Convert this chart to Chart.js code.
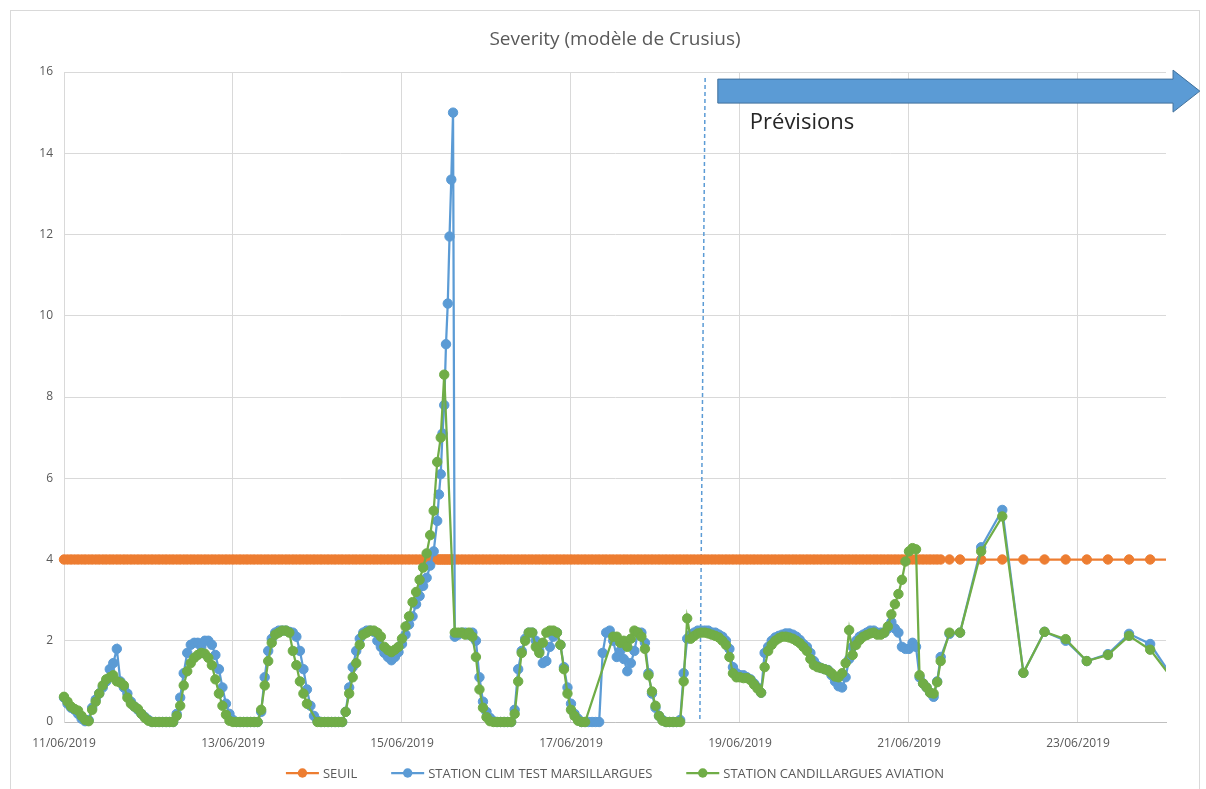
<!DOCTYPE html>
<html>
<head>
<meta charset="utf-8">
<title>Severity (modèle de Crusius)</title>
<script src="https://cdn.jsdelivr.net/npm/chart.js@4.4.1/dist/chart.umd.min.js"></script>
<style>
  html, body { margin: 0; padding: 0; background: #ffffff; }
  canvas { display: block; }
</style>
</head>
<body>
<canvas id="chart" width="1206" height="789"></canvas>
<script>
// Time of each reading, in hours after 11/06/2019 00:00 (hourly observations, then 6-hourly forecasts)
const hours = [
  0,1,2,3,4,5,6,7,8,9,
  10,11,12,13,14,15,16,17,18,19,
  20,21,22,23,24,25,26,27,28,29,
  30,31,32,33,34,35,36,37,38,39,
  40,41,42,43,44,45,46,47,48,49,
  50,51,52,53,54,55,56,57,58,59,
  60,61,62,63,64,65,66,67,68,69,
  70,71,72,73,74,75,76,77,78,79,
  80,81,82,83,84,85,86,87,88,89,
  90,91,92,93,94,95,96,97,98,99,
  100,101,102,103,104,105,
  106,106.5,107,107.5,108,108.5,109,109.5,110,110.5,
  111,112,113,114,115,116,117,118,119,
  120,121,122,123,124,125,126,127,128,129,
  130,131,132,133,134,135,136,137,138,139,
  140,141,142,143,144,145,146,147,148,149,
  150,151,152,153,154,155,156,157,158,159,
  160,161,162,163,164,165,166,167,168,169,
  170,171,172,173,174,175,176,177,178,179,
  180,181,182,183,184,185,186,187,188,189,
  190,191,192,193,194,195,196,197,198,199,
  200,201,202,203,204,205,206,207,208,209,
  210,211,212,213,214,215,216,217,218,219,
  220,221,222,223,224,225,226,227,228,229,
  230,231,232,233,234,235,236,237,238,239,
  240,241,242,243,244,245,246,247,248,249,
  251.5,254.5,260.5,266.5,272.5,278.5,284.5,290.5,296.5,302.5,308.5,314.5
];

// SEUIL (alert threshold)
const seuil = [
  4,4,4,4,4,4,4,4,4,4,
  4,4,4,4,4,4,4,4,4,4,
  4,4,4,4,4,4,4,4,4,4,
  4,4,4,4,4,4,4,4,4,4,
  4,4,4,4,4,4,4,4,4,4,
  4,4,4,4,4,4,4,4,4,4,
  4,4,4,4,4,4,4,4,4,4,
  4,4,4,4,4,4,4,4,4,4,
  4,4,4,4,4,4,4,4,4,4,
  4,4,4,4,4,4,4,4,4,4,
  4,4,4,4,4,4,
  4,4,4,4,4,4,4,4,4,4,
  4,4,4,4,4,4,4,4,4,
  4,4,4,4,4,4,4,4,4,4,
  4,4,4,4,4,4,4,4,4,4,
  4,4,4,4,4,4,4,4,4,4,
  4,4,4,4,4,4,4,4,4,4,
  4,4,4,4,4,4,4,4,4,4,
  4,4,4,4,4,4,4,4,4,4,
  4,4,4,4,4,4,4,4,4,4,
  4,4,4,4,4,4,4,4,4,4,
  4,4,4,4,4,4,4,4,4,4,
  4,4,4,4,4,4,4,4,4,4,
  4,4,4,4,4,4,4,4,4,4,
  4,4,4,4,4,4,4,4,4,4,
  4,4,4,4,4,4,4,4,4,4,
  4,4,4,4,4,4,4,4,4,4,
  4,4,4,4,4,4,4,4,4,4,4,4
];

// STATION CLIM TEST MARSILLARGUES
const marsillargues = [
  0.6,0.45,0.35,0.3,0.2,0.08,0.02,0.05,0.35,0.55,
  0.7,0.85,1.0,1.3,1.45,1.8,1.0,0.85,0.7,0.5,
  0.38,0.3,0.2,0.12,0.05,0,0,0,0,0,
  0,0,0.2,0.6,1.2,1.7,1.9,1.95,1.95,1.85,
  2.0,2.0,1.9,1.65,1.3,0.85,0.45,0.2,0.05,0,
  0,0,0,0,0,0,0.25,1.1,1.75,2.05,
  2.2,2.25,2.25,2.25,2.22,2.2,2.1,1.75,1.3,0.8,
  0.4,0.15,0.03,0,0,0,0,0,0,0,
  0.25,0.85,1.35,1.75,2.05,2.2,2.25,2.25,2.22,2.0,
  1.85,1.7,1.6,1.52,1.6,1.72,1.92,2.15,2.4,2.6,
  2.9,3.1,3.35,3.55,3.85,4.2,
  4.95,5.6,6.1,7.1,7.8,9.3,10.3,11.95,13.35,15.0,
  2.1,2.15,2.2,2.2,2.15,2.2,2.0,1.1,0.5,
  0.25,0.1,0.02,0,0,0,0,0,0.3,1.3,
  1.75,2.05,2.2,2.2,2.0,1.75,1.45,1.5,1.85,2.1,
  2.2,1.9,1.35,0.85,0.45,0.2,0.08,0,0,0,
  0,0,0,1.7,2.2,2.25,2.0,1.6,1.75,1.55,
  1.25,1.45,1.75,2.2,2.2,1.95,1.2,0.7,0.35,0.15,
  0.05,0,0,0,0,0.05,1.2,2.05,2.15,2.2,
  2.25,2.25,2.25,2.25,2.2,2.2,2.15,2.1,2.0,1.8,
  1.35,1.2,1.15,1.15,1.1,1.05,0.95,0.85,0.72,1.7,
  1.85,2.0,2.08,2.12,2.15,2.18,2.18,2.15,2.1,2.02,
  1.92,1.85,1.7,1.5,1.38,1.33,1.3,1.28,1.15,1.0,
  0.88,0.85,1.1,1.55,1.85,2.0,2.1,2.15,2.2,2.25,
  2.25,2.2,2.2,2.2,2.3,2.46,2.3,2.2,1.85,1.8,
  1.8,1.95,1.85,1.1,0.95,0.85,0.72,0.62,1.0,1.6,
  2.17,2.2,4.3,5.22,1.21,2.22,2.0,1.5,1.67,2.17,1.92,1.15
];

// STATION CANDILLARGUES AVIATION (null = no reading)
const candillargues = [
  0.62,0.5,0.38,0.32,0.28,0.15,0.05,0.02,0.3,0.5,
  0.7,0.9,1.05,1.1,1.15,1.0,0.97,0.9,0.6,0.45,
  0.38,0.32,0.2,0.1,0.03,0,0,0,0,0,
  0,0,0.15,0.4,0.9,1.25,1.45,1.58,1.65,1.7,
  1.68,1.58,1.4,1.05,0.7,0.4,0.18,0.03,0,0,
  0,0,0,0,0,0,0.3,0.9,1.5,1.95,
  2.15,2.2,2.25,2.25,2.2,1.75,1.4,1.0,0.7,0.45,
  null,null,0,0,0,0,0,0,0,0,
  0.25,0.7,1.1,1.45,1.9,2.15,2.2,2.25,2.25,2.2,
  2.1,1.85,1.77,1.72,1.78,1.85,2.05,2.35,2.6,2.95,
  3.2,3.5,3.8,4.15,4.6,5.2,
  6.4,null,7.0,null,8.55,null,null,null,null,null,
  2.2,2.2,2.2,2.15,2.2,2.1,1.6,0.8,0.35,
  0.12,0.02,0,0,0,0,0,0,0.2,1.0,
  1.7,2.0,2.2,2.2,1.85,1.7,1.95,2.2,2.25,2.25,
  2.2,1.9,1.3,0.7,0.3,0.15,0.03,0,0,null,
  null,null,null,null,null,null,2.1,2.1,1.95,2.0,
  1.85,2.05,2.25,2.2,2.1,1.8,1.15,0.75,0.4,0.15,
  0.03,0,0,0,0,0,1.0,2.55,2.05,2.12,
  2.18,2.2,2.2,2.18,2.15,2.12,2.08,2.0,1.9,1.6,
  1.2,1.1,1.1,1.08,1.08,1.03,0.92,0.82,0.72,1.35,
  1.75,1.9,2.0,2.06,2.1,2.1,2.08,2.05,2.0,1.94,
  1.85,1.75,1.55,1.4,1.35,1.33,1.3,1.27,1.2,1.12,
  1.1,1.2,1.45,2.26,1.65,1.9,2.02,2.1,2.14,2.18,
  2.2,2.15,2.15,2.2,2.35,2.65,2.9,3.15,3.5,3.95,
  4.2,4.28,4.25,1.15,0.95,0.85,0.72,0.7,0.98,1.5,
  2.2,2.2,4.2,5.06,1.21,2.22,2.04,1.5,1.65,2.12,1.78,1.1
];

const seriesNames = ['SEUIL', 'STATION CLIM TEST MARSILLARGUES', 'STATION CANDILLARGUES AVIATION'];
const seriesColors = ['#ED7D31', '#5B9BD5', '#70AD47'];

// Date labels, one every 48 hours
const tickLabels = ['11/06/2019', '13/06/2019', '15/06/2019', '17/06/2019', '19/06/2019', '21/06/2019', '23/06/2019'];
const hoursPerLabel = 48;
const yTicks = { min: 0, max: 16, step: 2 };

const chartTitle = 'Severity (modèle de Crusius)';
const forecastLabel = 'Prévisions';
// Start of the forecast period (dashed marker) and the arrow above it, in hours / severity units
const forecastMarker = { topHour: 182.1, bottomHour: 180.6, topLevel: 15.85 };
const forecastArrow = { startHour: 185.7, headHour: 315, tipHour: 322.6, level: 15.53 };

const FONT = '"Open Sans", "DejaVu Sans", sans-serif';
const TEXT_GREY = '#595959';
const GRID_GREY = '#D9D9D9';
const MARKER_RADIUS = 4.7;

function toPoints(values) {
  return hours.map((h, i) => ({ x: h, y: values[i] }));
}

function seriesStyle(i) {
  return {
    label: seriesNames[i],
    borderColor: seriesColors[i],
    backgroundColor: seriesColors[i],
    pointBackgroundColor: seriesColors[i],
    pointBorderColor: seriesColors[i],
    borderWidth: 2.25,
    pointRadius: MARKER_RADIUS,
    pointHoverRadius: MARKER_RADIUS,
    pointBorderWidth: 1,
    tension: 0,
    spanGaps: true,
    clip: { left: 8, top: 8, right: 0, bottom: 8 }
  };
}

const decorations = {
  id: 'decorations',
  beforeDraw(chart) {
    const ctx = chart.ctx;
    ctx.save();
    ctx.fillStyle = '#ffffff';
    ctx.fillRect(0, 0, chart.width, chart.height);
    ctx.strokeStyle = GRID_GREY;
    ctx.lineWidth = 1;
    ctx.strokeRect(10.5, 10.5, 1189, 800);
    ctx.restore();
  },
  beforeDatasetsDraw(chart) {
    const { ctx, scales: { x, y } } = chart;
    ctx.save();
    ctx.strokeStyle = '#5B9BD5';
    ctx.lineWidth = 1.5;
    ctx.setLineDash([4, 3]);
    ctx.beginPath();
    ctx.moveTo(x.getPixelForValue(forecastMarker.topHour), y.getPixelForValue(forecastMarker.topLevel));
    ctx.lineTo(x.getPixelForValue(forecastMarker.bottomHour), y.getPixelForValue(0));
    ctx.stroke();
    ctx.restore();
  },
  afterDraw(chart) {
    const { ctx, chartArea, scales: { x, y } } = chart;
    ctx.save();

    // Title
    ctx.fillStyle = TEXT_GREY;
    ctx.font = '19px ' + FONT;
    ctx.textAlign = 'center';
    ctx.textBaseline = 'middle';
    ctx.fillText(chartTitle, (chartArea.left + chartArea.right) / 2, 40);

    // Forecast arrow
    const left = x.getPixelForValue(forecastArrow.startHour);
    const head = x.getPixelForValue(forecastArrow.headHour);
    const tip = x.getPixelForValue(forecastArrow.tipHour);
    const cy = y.getPixelForValue(forecastArrow.level);
    const body = 12, wing = 21;
    ctx.beginPath();
    ctx.moveTo(left, cy - body);
    ctx.lineTo(head, cy - body);
    ctx.lineTo(head, cy - wing);
    ctx.lineTo(tip, cy);
    ctx.lineTo(head, cy + wing);
    ctx.lineTo(head, cy + body);
    ctx.lineTo(left, cy + body);
    ctx.closePath();
    ctx.fillStyle = '#5B9BD5';
    ctx.fill();
    ctx.strokeStyle = '#41719C';
    ctx.lineWidth = 1;
    ctx.stroke();

    ctx.fillStyle = '#262626';
    ctx.font = '22px ' + FONT;
    ctx.textAlign = 'left';
    ctx.textBaseline = 'alphabetic';
    ctx.fillText(forecastLabel, left + 32, cy + 38);

    // Legend: line with a marker, then the series name
    ctx.font = '13px ' + FONT;
    ctx.textBaseline = 'middle';
    const lineLen = 33, textGap = 4, itemGap = 34, ly = 773;
    const widths = seriesNames.map(n => ctx.measureText(n).width);
    const total = widths.reduce((s, w) => s + lineLen + textGap + w, 0) + itemGap * (seriesNames.length - 1);
    let lx = (chartArea.left + chartArea.right) / 2 - total / 2;
    seriesNames.forEach((name, i) => {
      ctx.strokeStyle = seriesColors[i];
      ctx.fillStyle = seriesColors[i];
      ctx.lineWidth = 2.25;
      ctx.beginPath();
      ctx.moveTo(lx, ly);
      ctx.lineTo(lx + lineLen, ly);
      ctx.stroke();
      ctx.beginPath();
      ctx.arc(lx + lineLen / 2, ly, MARKER_RADIUS, 0, Math.PI * 2);
      ctx.fill();
      ctx.fillStyle = TEXT_GREY;
      ctx.fillText(name, lx + lineLen + textGap, ly + 1);
      lx += lineLen + textGap + widths[i] + itemGap;
    });
    ctx.restore();
  }
};

new Chart(document.getElementById('chart'), {
  type: 'line',
  data: {
    datasets: [
      Object.assign({ data: toPoints(candillargues), order: 0 }, seriesStyle(2)),
      Object.assign({ data: toPoints(marsillargues), order: 1 }, seriesStyle(1)),
      Object.assign({ data: toPoints(seuil), order: 2 }, seriesStyle(0))
    ]
  },
  options: {
    responsive: false,
    animation: false,
    events: [],
    layout: { padding: { left: 0, right: 40, top: 72, bottom: 0 } },
    scales: {
      x: {
        type: 'linear',
        min: 0,
        max: 313,
        afterFit(scale) { scale.height = 67; },
        ticks: {
          stepSize: hoursPerLabel,
          includeBounds: false,
          autoSkip: false,
          maxRotation: 0,
          padding: 14,
          color: TEXT_GREY,
          font: { family: FONT, size: 12 },
          callback(value) {
            const i = value / hoursPerLabel;
            return Number.isInteger(i) && tickLabels[i] ? tickLabels[i] : '';
          }
        },
        grid: { color: GRID_GREY, lineWidth: 1, drawTicks: false },
        border: { color: '#BFBFBF', width: 1 }
      },
      y: {
        min: yTicks.min,
        max: yTicks.max,
        afterFit(scale) { scale.width = 64; },
        ticks: {
          stepSize: yTicks.step,
          padding: 11,
          color: TEXT_GREY,
          font: { family: FONT, size: 12 }
        },
        grid: { color: GRID_GREY, lineWidth: 1, drawTicks: false },
        border: { color: GRID_GREY, width: 1 }
      }
    },
    plugins: {
      legend: { display: false },
      title: { display: false },
      tooltip: { enabled: false }
    }
  },
  plugins: [decorations]
});
</script>
</body>
</html>
